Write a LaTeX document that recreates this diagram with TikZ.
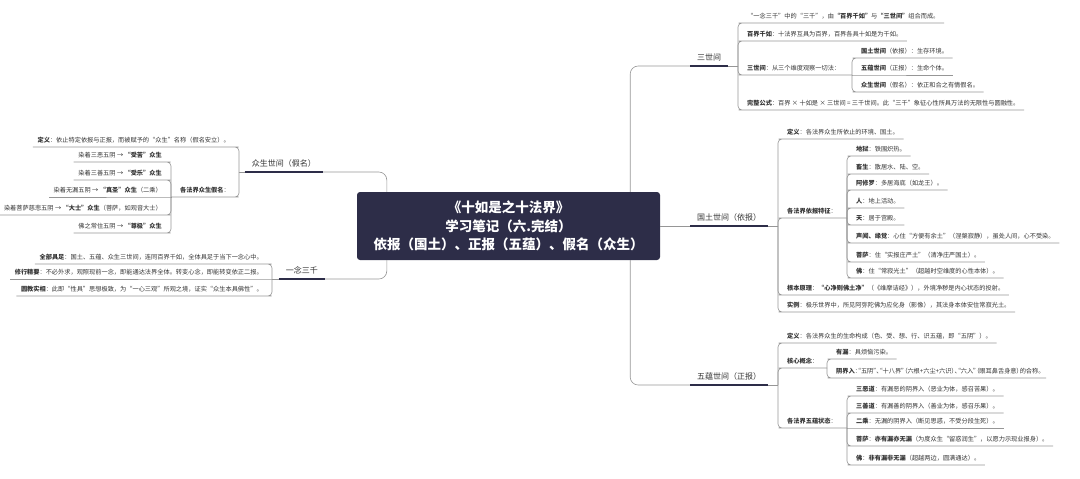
\documentclass[tikz,border=0pt]{standalone}
\usepackage{fontspec}
\setmainfont{Noto Sans CJK SC}
\definecolor{navy}{RGB}{45,45,72}
\definecolor{txt}{RGB}{51,51,51}
\definecolor{linkgray}{RGB}{150,150,150}
\begin{document}
\begin{tikzpicture}[x=1pt, y=-1pt,
  root/.style={fill=navy, text=white, rounded corners=3pt, minimum width=303pt, minimum height=68pt, align=center, font=\fontsize{13.5}{18.5}\selectfont\bfseries},
  branch/.style={inner xsep=7pt, inner ysep=4pt, text height=7pt, text depth=1.5pt, font=\fontsize{8}{9}\selectfont, text=txt},
  leafr/.style={anchor=south west, inner xsep=4.5pt, inner ysep=2.8pt, text height=5.5pt, text depth=1.2pt, font=\fontsize{6.2}{7}\selectfont, text=txt},
  leafl/.style={leafr, anchor=south east},
  narrow/.style={font=\fontsize{6.2}{7}\selectfont\addfontfeature{RawFeature=+palt}},
  bline/.style={draw=navy, line width=1.8pt},
  link/.style={draw=linkgray, line width=0.6pt, rounded corners=4pt}]

\useasboundingbox (0,0) rectangle (1080,479);

% Root Node
\node[root] (root) at (508.5,226) {《十如是之十法界》\\学习笔记（六.完结）\\依报（国土）、正报（五蕴）、假名（众生）};

% Level 1: Branches
\node[branch, anchor=south west] (sanshi) at (690,66) {三世间};
\node[branch, anchor=south west] (guotu) at (690,226) {国土世间（依报）};
\node[branch, anchor=south west] (wuyun) at (690,385) {五蕴世间（正报）};
\node[branch, anchor=south east] (zhongsheng) at (323,172) {众生世间（假名）};
\node[branch, anchor=south east] (yinian) at (325,279) {一念三千};

% Bracket points
\coordinate (b-sanshi) at (738,66);
\coordinate (b-weidu) at (852,75);
\coordinate (b-guotu) at (778,226);
\coordinate (b-tezheng) at (847,218);
\coordinate (b-wuyun) at (778,385);
\coordinate (b-hexin) at (827,368);
\coordinate (b-zhuangtai) at (847,428);
\coordinate (b-zhongsheng) at (239,172);
\coordinate (b-jiaming) at (171,197);
\coordinate (b-yinian) at (272,279);

% Level 2: 三世间
\node[leafr] (s1) at (742.5,23) {“一念三千”中的“三千”，由\textbf{“百界千如”}与\textbf{“三世间”}组合而成。};
\node[leafr] (s2) at (742.5,41) {\textbf{百界千如}：十法界互具为百界，百界各具十如是为千如。};
\node[leafr] (s3) at (742.5,75) {\textbf{三世间}：从三个维度观察一切法：};
\node[leafr] (s4) at (742.5,110) {\textbf{完整公式}：百界 × 十如是 × 三世间 = 三千世间。此“三千”象征心性所具万法的无限性与圆融性。};
\node[leafr] (s31) at (856.5,58) {\textbf{国土世间}（依报）：生存环境。};
\node[leafr] (s32) at (856.5,75) {\textbf{五蕴世间}（正报）：生命个体。};
\node[leafr] (s33) at (856.5,92) {\textbf{众生世间}（假名）：依正和合之有情假名。};

% Level 2: 国土世间
\node[leafr] (g1) at (782.5,139) {\textbf{定义}：各法界众生所依止的环境、国土。};
\node[leafr] (g2) at (782.5,218) {\textbf{各法界依报特征}：};
\node[leafr] (g3) at (782.5,295) {\textbf{根本原理}：\textbf{“心净则佛土净”}（《维摩诘经》），外境净秽是内心状态的投射。};
\node[leafr] (g4) at (782.5,312) {\textbf{实例}：极乐世界中，所见阿弥陀佛为应化身（影像），其法身本体安住常寂光土。};
\node[leafr] (g21) at (851.5,156) {\textbf{地狱}：铁围炽热。};
\node[leafr] (g22) at (851.5,174) {\textbf{畜生}：散居水、陆、空。};
\node[leafr] (g23) at (851.5,190) {\textbf{阿修罗}：多居海底（如龙王）。};
\node[leafr] (g24) at (851.5,208) {\textbf{人}：地上活动。};
\node[leafr] (g25) at (851.5,225) {\textbf{天}：居于宫殿。};
\node[leafr] (g26) at (851.5,243) {\textbf{声闻、缘觉}：心住“方便有余土”（涅槃寂静），虽处人间，心不受染。};
\node[leafr] (g27) at (851.5,262) {\textbf{菩萨}：住“实报庄严土”（清净庄严国土）。};
\node[leafr] (g28) at (851.5,278) {\textbf{佛}：住“常寂光土”（超越时空维度的心性本体）。};

% Level 2: 五蕴世间
\node[leafr] (w1) at (782.5,343) {\textbf{定义}：各法界众生的生命构成（色、受、想、行、识五蕴，即“五阴”）。};
\node[leafr] (w2) at (782.5,368) {\textbf{核心概念}：};
\node[leafr] (w3) at (782.5,428) {\textbf{各法界五蕴状态}：};
\node[leafr] (w21) at (831.5,359) {\textbf{有漏}：具烦恼污染。};
\node[leafr, narrow] (w22) at (831.5,378) {\textbf{阴界入}：“五阴”、“十八界”（六根+六尘+六识）、“六入”（眼耳鼻舌身意）的合称。};
\node[leafr] (w31) at (851.5,396) {\textbf{三恶道}：有漏恶的阴界入（恶业为体，感召苦果）。};
\node[leafr] (w32) at (851.5,413) {\textbf{三善道}：有漏善的阴界入（善业为体，感召乐果）。};
\node[leafr] (w33) at (851.5,428) {\textbf{二乘}：无漏的阴界入（断见思惑，不受分段生死）。};
\node[leafr] (w34) at (851.5,446) {\textbf{菩萨}：\textbf{亦有漏亦无漏}（为度众生“留惑润生”，以愿力示现业报身）。};
\node[leafr] (w35) at (851.5,465) {\textbf{佛}：\textbf{非有漏非无漏}（超越两边，圆满通达）。};

% Level 2: 众生世间
\node[leafl] (z1) at (234.5,147) {\textbf{定义}：依止特定依报与正报，而被赋予的“众生”名称（假名安立）。};
\node[leafl] (z2) at (234.5,197) {\textbf{各法界众生假名}：};
\node[leafl] (z21) at (166.5,162) {染着三恶五阴 → \textbf{“受苦”众生}};
\node[leafl] (z22) at (166.5,180) {染着三善五阴 → \textbf{“受乐”众生}};
\node[leafl] (z23) at (166.5,197) {染着无漏五阴 → \textbf{“真圣”众生}（二乘）};
\node[leafl] (z24) at (166.5,215) {染着菩萨慈悲五阴 → \textbf{“大士”众生}（菩萨，如观音大士）};
\node[leafl] (z25) at (166.5,233) {佛之常住五阴 → \textbf{“尊极”众生}};

% Level 2: 一念三千
\node[leafl] (y1) at (267.5,264) {\textbf{全部具足}：国土、五蕴、众生三世间，连同百界千如，全体具足于当下一念心中。};
\node[leafl] (y2) at (267.5,279) {\textbf{修行精要}：不必外求，观照现前一念，即能通达法界全体。转变心念，即能转变依正二报。};
\node[leafl] (y3) at (267.5,296) {\textbf{圆教实相}：此即“性具”思想极致，为“一心三观”所观之境，证实“众生本具佛性”。};

% Links (Root to Level 1)
\draw[link, rounded corners=8pt] ([xshift=-30pt]root.north east) |- (sanshi.south west);
\draw[link] (root.east) -- (guotu.south west);
\draw[link, rounded corners=8pt] ([xshift=-30pt]root.south east) |- (wuyun.south west);
\draw[link, rounded corners=8pt] ([xshift=30pt]root.north west) |- (zhongsheng.south east);
\draw[link, rounded corners=8pt] ([xshift=30pt]root.south west) |- (yinian.south east);

% Branch underlines
\draw[bline] (sanshi.south west) -- (sanshi.south east);
\draw[bline] (guotu.south west) -- (guotu.south east);
\draw[bline] (wuyun.south west) -- (wuyun.south east);
\draw[bline] (zhongsheng.south west) -- (zhongsheng.south east);
\draw[bline] (yinian.south west) -- (yinian.south east);

% Links (Level 1 to Level 2)
\draw[link] (sanshi.south east) -- (b-sanshi);
\draw[link] (b-sanshi) |- (s1.south west) -- (s1.south east);
\draw[link] (b-sanshi) |- (s2.south west) -- (s2.south east);
\draw[link] (b-sanshi) |- (s3.south west) -- (s3.south east) -- (b-weidu);
\draw[link] (b-sanshi) |- (s4.south west) -- (s4.south east);
\draw[link] (b-weidu) |- (s31.south west) -- (s31.south east);
\draw[link] (b-weidu) -- (s32.south west) -- (s32.south east);
\draw[link] (b-weidu) |- (s33.south west) -- (s33.south east);

\draw[link] (guotu.south east) -- (b-guotu);
\draw[link] (b-guotu) |- (g1.south west) -- (g1.south east);
\draw[link] (b-guotu) |- (g2.south west) -- (g2.south east) -- (b-tezheng);
\draw[link] (b-guotu) |- (g3.south west) -- (g3.south east);
\draw[link] (b-guotu) |- (g4.south west) -- (g4.south east);
\draw[link] (b-tezheng) |- (g21.south west) -- (g21.south east);
\draw[link] (b-tezheng) |- (g22.south west) -- (g22.south east);
\draw[link] (b-tezheng) |- (g23.south west) -- (g23.south east);
\draw[link] (b-tezheng) |- (g24.south west) -- (g24.south east);
\draw[link] (b-tezheng) |- (g25.south west) -- (g25.south east);
\draw[link] (b-tezheng) |- (g26.south west) -- (g26.south east);
\draw[link] (b-tezheng) |- (g27.south west) -- (g27.south east);
\draw[link] (b-tezheng) |- (g28.south west) -- (g28.south east);

\draw[link] (wuyun.south east) -- (b-wuyun);
\draw[link] (b-wuyun) |- (w1.south west) -- (w1.south east);
\draw[link] (b-wuyun) |- (w2.south west) -- (w2.south east) -- (b-hexin);
\draw[link] (b-wuyun) |- (w3.south west) -- (w3.south east) -- (b-zhuangtai);
\draw[link] (b-hexin) |- (w21.south west) -- (w21.south east);
\draw[link] (b-hexin) |- (w22.south west) -- (w22.south east);
\draw[link] (b-zhuangtai) |- (w31.south west) -- (w31.south east);
\draw[link] (b-zhuangtai) |- (w32.south west) -- (w32.south east);
\draw[link] (b-zhuangtai) -- (w33.south west) -- (w33.south east);
\draw[link] (b-zhuangtai) |- (w34.south west) -- (w34.south east);
\draw[link] (b-zhuangtai) |- (w35.south west) -- (w35.south east);

\draw[link] (zhongsheng.south west) -- (b-zhongsheng);
\draw[link] (b-zhongsheng) |- (z1.south east) -- (z1.south west);
\draw[link] (b-zhongsheng) |- (z2.south east) -- (z2.south west) -- (b-jiaming);
\draw[link] (b-jiaming) |- (z21.south east) -- (z21.south west);
\draw[link] (b-jiaming) |- (z22.south east) -- (z22.south west);
\draw[link] (b-jiaming) -- (z23.south east) -- (z23.south west);
\draw[link] (b-jiaming) |- (z24.south east) -- (z24.south west);
\draw[link] (b-jiaming) |- (z25.south east) -- (z25.south west);

\draw[link] (yinian.south west) -- (b-yinian);
\draw[link] (b-yinian) |- (y1.south east) -- (y1.south west);
\draw[link] (b-yinian) -- (y2.south east) -- (y2.south west);
\draw[link] (b-yinian) |- (y3.south east) -- (y3.south west);

\end{tikzpicture}
\end{document}
